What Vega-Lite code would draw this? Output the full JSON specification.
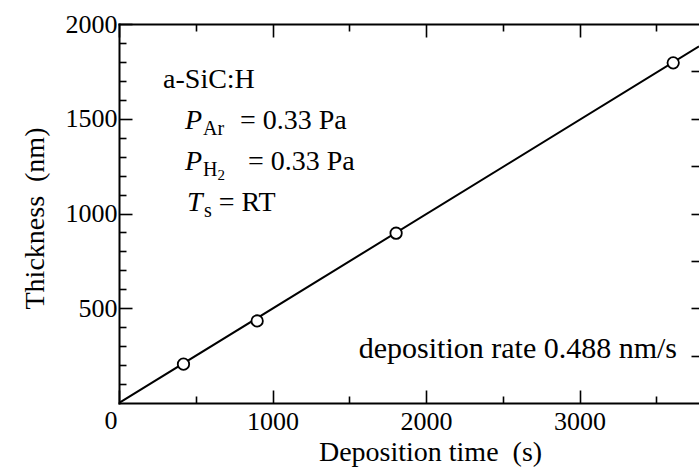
{
  "$schema": "https://vega.github.io/schema/vega-lite/v6.json",
  "width": 580,
  "height": 379,
  "autosize": {"type": "none"},
  "padding": {"left": 119, "top": 24, "right": 0, "bottom": 67},
  "background": "white",
  "config": {
    "view": {"stroke": null},
    "font": "Liberation Serif",
    "axis": {
      "grid": false,
      "domainColor": "black",
      "domainWidth": 2,
      "domainCap": "square",
      "tickColor": "black",
      "tickWidth": 1.6,
      "labelColor": "black",
      "labelFont": "Liberation Serif",
      "labelFontSize": 26,
      "titleFont": "Liberation Serif",
      "titleFontSize": 28,
      "titleFontWeight": "normal",
      "titleColor": "black",
      "labelOverlap": false,
      "labelFlush": false
    },
    "text": {"font": "Liberation Serif", "color": "black"}
  },
  "datasets": {
    "points": [
      {"time": 420, "thickness": 205},
      {"time": 900, "thickness": 433},
      {"time": 1805, "thickness": 896},
      {"time": 3610, "thickness": 1795}
    ],
    "fit": [
      {"time": 0, "thickness": 0},
      {"time": 3778, "thickness": 1882}
    ],
    "notes": [
      {"label": "a-SiC:H", "time": 287, "thickness": 1662, "part": "name"},
      {"label": "P", "time": 430, "thickness": 1446, "part": "symbol"},
      {"label": "Ar", "time": 547, "thickness": 1446, "part": "sub"},
      {"label": "= 0.33 Pa", "time": 788, "thickness": 1446, "part": "value"},
      {"label": "P", "time": 430, "thickness": 1230, "part": "symbol"},
      {"label": "H", "time": 547, "thickness": 1230, "part": "sub"},
      {"label": "2", "time": 642, "thickness": 1230, "part": "subsub"},
      {"label": "= 0.33 Pa", "time": 840, "thickness": 1230, "part": "value"},
      {"label": "T", "time": 443, "thickness": 1013, "part": "symbol"},
      {"label": "s", "time": 554, "thickness": 1013, "part": "sub"},
      {"label": "= RT", "time": 650, "thickness": 1013, "part": "value"},
      {"label": "deposition rate 0.488 nm/s", "time": 3635, "thickness": 237, "part": "rate"}
    ]
  },
  "resolve": {"axis": {"x": "independent", "y": "independent"}},
  "layer": [
    {
      "data": {"name": "fit"},
      "mark": {"type": "line", "color": "black", "strokeWidth": 2, "clip": true},
      "encoding": {
        "x": {
          "field": "time", "type": "quantitative",
          "scale": {"domain": [0, 3778], "nice": false, "zero": false},
          "axis": {
            "orient": "bottom", "values": [1000, 2000, 3000], "format": "d",
            "ticks": false, "domain": true, "labelPadding": 5,
            "title": "Deposition time\u00a0 (s)", "titleX": 311, "titleY": 57, "titleBaseline": "alphabetic"
          }
        },
        "y": {
          "field": "thickness", "type": "quantitative",
          "scale": {"domain": [0, 2000], "nice": false, "zero": false},
          "axis": {
            "orient": "left", "values": [0, 500, 1000, 1500, 2000], "format": "d",
            "ticks": false, "domain": true, "labelPadding": 2,
            "labelBaseline": {"condition": {"test": "datum.value === 0", "value": "top"}, "value": "middle"},
            "labelOffset": {"condition": {"test": "datum.value === 0", "value": 4}, "value": 0},
            "title": "Thickness\u00a0 (nm)", "titleX": -76, "titleY": 194, "titleAngle": -90,
            "titleBaseline": "alphabetic", "titleAlign": "center"
          }
        }
      }
    },
    {
      "data": {"name": "points"},
      "mark": {"type": "point", "shape": "circle", "filled": true, "fill": "white", "stroke": "black", "strokeWidth": 1.8, "size": 130, "opacity": 1},
      "encoding": {
        "x": {
          "field": "time", "type": "quantitative",
          "scale": {"domain": [0, 3778], "nice": false, "zero": false},
          "axis": {"orient": "bottom", "values": [0, 1000, 2000, 3000], "labels": false, "domain": false, "tickSize": -13, "title": null}
        },
        "y": {
          "field": "thickness", "type": "quantitative",
          "scale": {"domain": [0, 2000], "nice": false, "zero": false},
          "axis": {"orient": "left", "values": [500, 1000, 1500, 2000], "labels": false, "domain": false, "tickSize": -13, "title": null}
        }
      }
    },
    {
      "data": {"name": "notes"},
      "transform": [{"filter": "datum.part === 'name' || datum.part === 'value'"}],
      "mark": {"type": "text", "align": "left", "baseline": "alphabetic", "fontSize": 28, "font": "Liberation Serif", "color": "black"},
      "encoding": {
        "text": {"field": "label"},
        "x": {
          "field": "time", "type": "quantitative",
          "scale": {"domain": [0, 3778], "nice": false, "zero": false},
          "axis": {"orient": "bottom", "values": [500, 1500, 2500, 3500], "labels": false, "domain": false, "tickSize": -7, "title": null}
        },
        "y": {
          "field": "thickness", "type": "quantitative",
          "scale": {"domain": [0, 2000], "nice": false, "zero": false},
          "axis": {"orient": "left", "values": [100, 200, 300, 400, 600, 700, 800, 900, 1100, 1200, 1300, 1400, 1600, 1700, 1800, 1900], "labels": false, "domain": false, "tickSize": -7, "title": null}
        }
      }
    },
    {
      "data": {"name": "notes"},
      "transform": [{"filter": "datum.part === 'symbol'"}],
      "mark": {"type": "text", "align": "left", "baseline": "alphabetic", "fontSize": 28, "fontStyle": "italic", "font": "Liberation Serif", "color": "black"},
      "encoding": {
        "text": {"field": "label"},
        "x": {
          "field": "time", "type": "quantitative",
          "scale": {"domain": [0, 3778], "nice": false, "zero": false},
          "axis": {"orient": "top", "values": [0, 1000, 2000, 3000], "labels": false, "domain": true, "tickSize": -13, "title": null}
        },
        "y": {
          "field": "thickness", "type": "quantitative",
          "scale": {"domain": [0, 2000], "nice": false, "zero": false},
          "axis": {"orient": "right", "values": [250, 500, 750, 1000, 1250, 1500, 1750], "labels": false, "domain": false, "tickSize": -8, "title": null}
        }
      }
    },
    {
      "data": {"name": "notes"},
      "transform": [{"filter": "datum.part === 'sub'"}],
      "mark": {"type": "text", "align": "left", "baseline": "alphabetic", "fontSize": 20, "dy": 6, "font": "Liberation Serif", "color": "black"},
      "encoding": {
        "text": {"field": "label"},
        "x": {
          "field": "time", "type": "quantitative",
          "scale": {"domain": [0, 3778], "nice": false, "zero": false},
          "axis": {"orient": "top", "values": [500, 1500, 2500, 3500], "labels": false, "domain": false, "tickSize": -7, "title": null}
        },
        "y": {
          "field": "thickness", "type": "quantitative",
          "scale": {"domain": [0, 2000], "nice": false, "zero": false},
          "axis": null
        }
      }
    },
    {
      "data": {"name": "notes"},
      "transform": [{"filter": "datum.part === 'subsub'"}],
      "mark": {"type": "text", "align": "left", "baseline": "alphabetic", "fontSize": 15, "dy": 10, "font": "Liberation Serif", "color": "black"},
      "encoding": {
        "text": {"field": "label"},
        "x": {"field": "time", "type": "quantitative", "scale": {"domain": [0, 3778], "nice": false, "zero": false}, "axis": null},
        "y": {"field": "thickness", "type": "quantitative", "scale": {"domain": [0, 2000], "nice": false, "zero": false}, "axis": null}
      }
    },
    {
      "data": {"name": "notes"},
      "transform": [{"filter": "datum.part === 'rate'"}],
      "mark": {"type": "text", "align": "right", "baseline": "alphabetic", "fontSize": 30, "font": "Liberation Serif", "color": "black"},
      "encoding": {
        "text": {"field": "label"},
        "x": {"field": "time", "type": "quantitative", "scale": {"domain": [0, 3778], "nice": false, "zero": false}, "axis": null},
        "y": {"field": "thickness", "type": "quantitative", "scale": {"domain": [0, 2000], "nice": false, "zero": false}, "axis": null}
      }
    }
  ]
}
